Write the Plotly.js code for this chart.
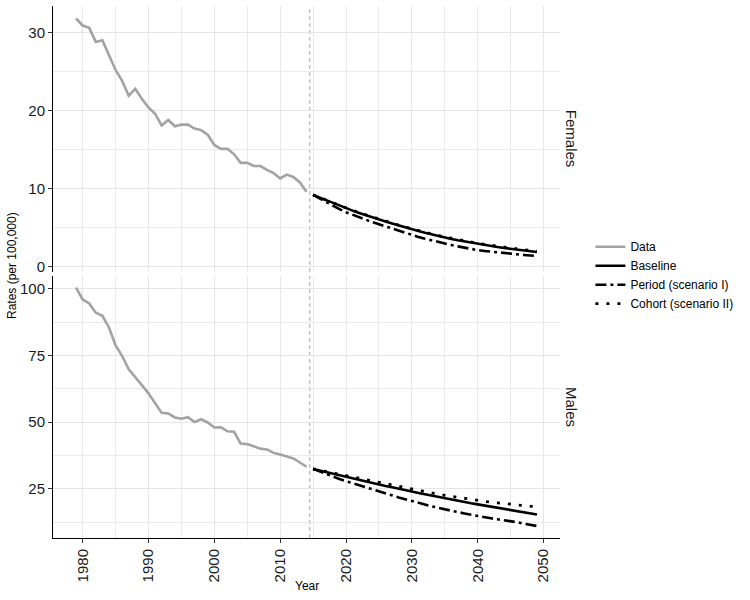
<!DOCTYPE html>
<html>
<head>
<meta charset="utf-8">
<script src="https://cdn.plot.ly/plotly-3.0.1.min.js"></script>
<style>html,body{margin:0;padding:0;background:#fff;}#chart{width:750px;height:600px;}</style>
</head>
<body>
<div id="chart"></div>
<script>
// ---- data ----
var dataYears = [1979,1980,1981,1982,1983,1984,1985,1986,1987,1988,1989,1990,1991,1992,1993,1994,1995,1996,1997,1998,1999,2000,2001,2002,2003,2004,2005,2006,2007,2008,2009,2010,2011,2012,2013,2014];
var projYears = [2015,2016,2017,2018,2019,2020,2021,2022,2023,2024,2025,2026,2027,2028,2029,2030,2031,2032,2033,2034,2035,2036,2037,2038,2039,2040,2041,2042,2043,2044,2045,2046,2047,2048,2049];

var femalesData = [31.8,30.9,30.6,28.8,29.0,27.0,25.2,23.8,21.9,22.8,21.5,20.4,19.6,18.1,18.8,18.0,18.2,18.2,17.7,17.5,16.9,15.6,15.1,15.1,14.4,13.3,13.3,12.9,12.9,12.4,12.0,11.3,11.8,11.5,10.8,9.6];
var femalesBaseline = [9.2,8.85,8.5,8.15,7.8,7.48,7.18,6.89,6.6,6.33,6.07,5.8,5.54,5.28,5.03,4.79,4.56,4.34,4.13,3.93,3.74,3.56,3.39,3.23,3.07,2.92,2.78,2.65,2.52,2.4,2.29,2.18,2.08,1.98,1.89];
var femalesPeriod = [9.2,8.72,8.26,7.81,7.38,6.97,6.64,6.32,6.01,5.71,5.43,5.15,4.87,4.59,4.32,4.06,3.82,3.59,3.37,3.16,2.96,2.78,2.6,2.43,2.27,2.12,2.02,1.92,1.82,1.73,1.65,1.57,1.5,1.43,1.36];
var femalesCohort = [9.2,8.86,8.52,8.17,7.83,7.51,7.21,6.92,6.64,6.37,6.11,5.85,5.59,5.33,5.09,4.85,4.62,4.4,4.19,3.99,3.81,3.63,3.46,3.3,3.14,3.0,2.86,2.73,2.6,2.49,2.38,2.27,2.17,2.08,1.99];

var malesData = [100.4,96.0,94.5,91.0,89.9,85.5,78.9,74.8,69.8,67.0,63.9,60.8,57.3,53.5,53.3,51.8,51.3,51.9,50.1,51.1,49.9,48.0,48.1,46.6,46.4,42.0,41.8,40.8,40.1,39.8,38.5,37.9,37.0,36.4,34.9,33.3];
var malesBaseline = [32.5,31.9,31.3,30.7,30.1,29.5,28.9,28.4,27.8,27.2,26.7,26.1,25.6,25.0,24.5,24.0,23.5,23.0,22.5,21.9,21.4,21.0,20.6,20.1,19.6,19.2,18.8,18.4,17.9,17.5,17.1,16.7,16.3,15.8,15.4];
var malesPeriod = [32.5,31.5,30.5,29.6,28.7,27.9,27.1,26.3,25.5,24.8,24.1,23.3,22.6,21.8,21.1,20.4,19.8,19.1,18.5,17.9,17.3,16.8,16.3,15.8,15.3,14.8,14.4,14.0,13.6,13.3,12.9,12.5,12.0,11.6,11.1];
var malesCohort = [32.5,32.0,31.5,31.0,30.5,30.0,29.5,28.9,28.4,27.9,27.4,26.9,26.4,25.9,25.3,24.8,24.3,23.9,23.4,23.0,22.6,22.2,21.8,21.4,21.0,20.6,20.3,20.0,19.8,19.5,19.3,19.0,18.8,18.5,18.3];

var seriesNames = ["Data","Baseline","Period (scenario I)","Cohort (scenario II)"];
var panelNames = ["Females","Males"];
var xTicks = [1980,1990,2000,2010,2020,2030,2040,2050];
var cutoffYear = 2014.5;

// ---- styles ----
var FONT = "Liberation Sans, Arial, sans-serif";
var GREY = "#a3a3a3";
var styles = [
  {color: GREY, width: 2.6, dash: "solid"},
  {color: "#000", width: 2.6, dash: "solid"},
  {color: "#000", width: 2.6, dash: "11px,4px,3px,4px"},
  {color: "#000", width: 2.8, dash: "3px,8px"}
];

function mk(x, y, i, xa, ya, show) {
  return {x: x, y: y, type: "scatter", mode: "lines", name: seriesNames[i],
    xaxis: xa, yaxis: ya, showlegend: show, legendgroup: seriesNames[i],
    line: {color: styles[i].color, width: styles[i].width, dash: styles[i].dash}};
}

var traces = [
  mk(dataYears, femalesData, 0, "x2", "y2", true),
  mk(projYears, femalesBaseline, 1, "x2", "y2", true),
  mk(projYears, femalesPeriod, 2, "x2", "y2", true),
  mk(projYears, femalesCohort, 3, "x2", "y2", true),
  mk(dataYears, malesData, 0, "x", "y", false),
  mk(projYears, malesBaseline, 1, "x", "y", false),
  mk(projYears, malesPeriod, 2, "x", "y", false),
  mk(projYears, malesCohort, 3, "x", "y", false)
];

var GRID = "#e6e6e6";
var tickFont = {family: FONT, size: 15, color: "#1a1a1a"};

var layout = {
  width: 750, height: 600,
  margin: {l: 53, r: 190, t: 6, b: 62, autoexpand: false},
  paper_bgcolor: "#fff", plot_bgcolor: "#fff",
  font: {family: FONT, color: "#000"},
  showlegend: true,
  legend: {x: 1.06, xanchor: "left", y: 0.494, yanchor: "middle",
    font: {family: FONT, size: 12, color: "#000"}, bgcolor: "rgba(0,0,0,0)", tracegroupgap: 0},
  xaxis: {anchor: "y", range: [1975.5, 2052.5], tickmode: "array", tickvals: xTicks,
    tickangle: -90, tickfont: tickFont, showline: true, linecolor: "#000", linewidth: 1,
    ticks: "outside", ticklen: 4, tickcolor: "#333", showgrid: true, gridcolor: GRID, gridwidth: 1,
    minor: {dtick: 5, tick0: 1975, showgrid: true, gridcolor: GRID, gridwidth: 0.8},
    zeroline: false},
  xaxis2: {anchor: "y2", matches: "x", range: [1975.5, 2052.5], tickmode: "array", tickvals: xTicks,
    showticklabels: false, showline: false, ticks: "", showgrid: true, gridcolor: GRID, gridwidth: 1,
    minor: {dtick: 5, tick0: 1975, showgrid: true, gridcolor: GRID, gridwidth: 0.8},
    zeroline: false},
  yaxis: {domain: [0, 0.4925], anchor: "x", range: [6.6, 104.8], tickmode: "array", tickvals: [25,50,75,100],
    tickfont: tickFont, showline: true, linecolor: "#000", linewidth: 1,
    ticks: "outside", ticklen: 4, tickcolor: "#333", showgrid: true, gridcolor: GRID, gridwidth: 1,
    minor: {dtick: 12.5, tick0: 0, showgrid: true, gridcolor: GRID, gridwidth: 0.8},
    zeroline: false},
  yaxis2: {domain: [0.5, 1], anchor: "x2", range: [-0.68, 33.4], tickmode: "array", tickvals: [0,10,20,30],
    tickfont: tickFont, showline: true, linecolor: "#000", linewidth: 1,
    ticks: "outside", ticklen: 4, tickcolor: "#333", showgrid: true, gridcolor: GRID, gridwidth: 1,
    minor: {dtick: 5, tick0: 0, showgrid: true, gridcolor: GRID, gridwidth: 0.8},
    zeroline: false},
  shapes: [
    {type: "line", xref: "x", yref: "y domain", x0: cutoffYear, x1: cutoffYear, y0: 0, y1: 1,
      line: {color: "#a8a8a8", width: 1, dash: "4px,3px"}, layer: "below"},
    {type: "line", xref: "x2", yref: "y2 domain", x0: cutoffYear, x1: cutoffYear, y0: 0, y1: 1,
      line: {color: "#a8a8a8", width: 1, dash: "4px,3px"}, layer: "below"}
  ],
  annotations: [
    {text: panelNames[0], xref: "paper", yref: "paper", x: 1.024, y: 0.75, xanchor: "center", yanchor: "middle",
      textangle: 90, showarrow: false, font: {family: FONT, size: 15, color: "#1a1a1a"}},
    {text: panelNames[1], xref: "paper", yref: "paper", x: 1.024, y: 0.246, xanchor: "center", yanchor: "middle",
      textangle: 90, showarrow: false, font: {family: FONT, size: 15, color: "#1a1a1a"}},
    {text: "Rates (per 100,000)", xref: "paper", yref: "paper", x: -0.081, y: 0.513, xanchor: "center", yanchor: "middle",
      textangle: -90, showarrow: false, font: {family: FONT, size: 12, color: "#000"}},
    {text: "Year", xref: "paper", yref: "paper", x: 0.5, y: -0.09, xanchor: "center", yanchor: "middle",
      showarrow: false, font: {family: FONT, size: 12, color: "#000"}}
  ]
};

Plotly.newPlot("chart", traces, layout, {displayModeBar: false, staticPlot: true});
</script>
</body>
</html>
